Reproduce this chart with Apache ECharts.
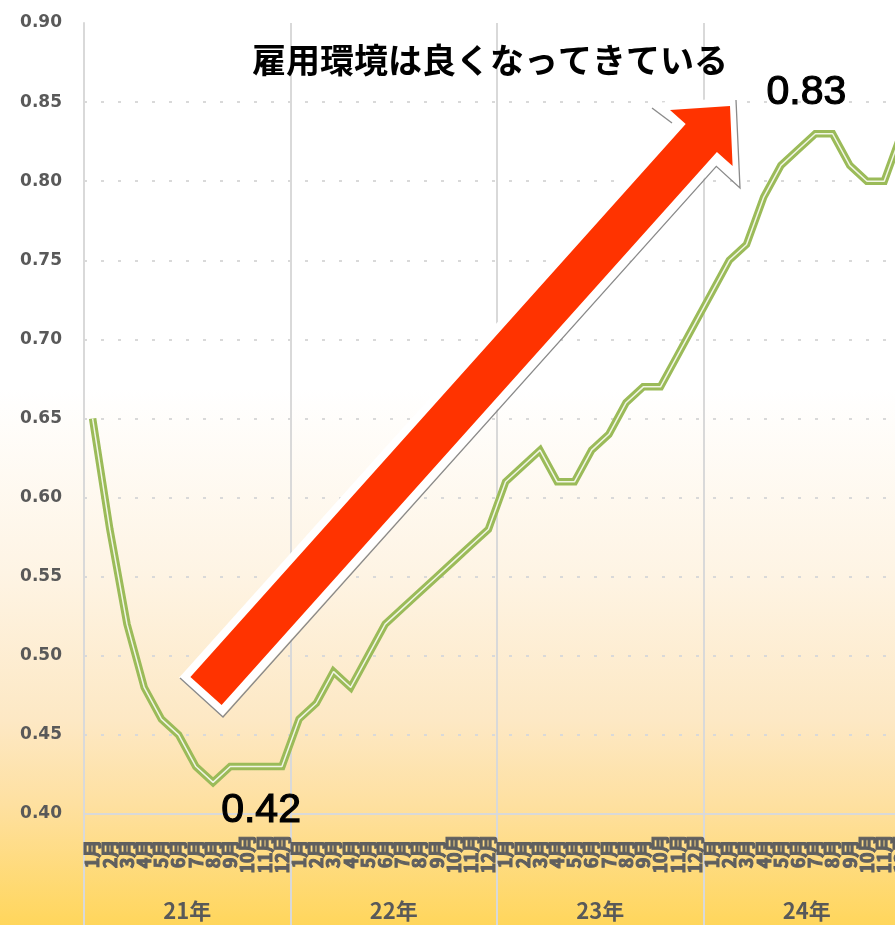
<!DOCTYPE html>
<html>
<head>
<meta charset="utf-8">
<script src="https://cdn.jsdelivr.net/npm/echarts@6/dist/echarts.min.js"></script>
<style>
  html, body { margin: 0; padding: 0; background: #fff; }
  #chart { width: 895px; height: 925px; }
</style>
</head>
<body>
<div id="chart"></div>
<script>
// 年・月の区分
const years = ['21年', '22年', '23年', '24年'];
const monthNames = ['1月', '2月', '3月', '4月', '5月', '6月', '7月', '8月', '9月', '10月', '11月', '12月'];

// 月次の求人倍率
const ratio = [
  0.65, 0.58, 0.52, 0.48, 0.46, 0.45, 0.43, 0.42, 0.43, 0.43, 0.43, 0.43,
  0.46, 0.47, 0.49, 0.48, 0.50, 0.52, 0.53, 0.54, 0.55, 0.56, 0.57, 0.58,
  0.61, 0.62, 0.63, 0.61, 0.61, 0.63, 0.64, 0.66, 0.67, 0.67, 0.69, 0.71,
  0.73, 0.75, 0.76, 0.79, 0.81, 0.82, 0.83, 0.83, 0.81, 0.80, 0.80, 0.83
];

// 縦軸の目盛り
const yMin = 0.40, yMax = 0.90, yStep = 0.05;

// 数値ラベルを付ける月（最低値・最高値）
const lowIndex = 7;
const highIndex = 42;

const categories = [];
years.forEach(y => monthNames.forEach(m => categories.push(y + m)));

const GRID = '#D9D9D9';
const AXIS_TEXT = '#595959';
const LINE_GREEN = '#9BBB59';

const lineData = ratio.map((v, i) => {
  if (i === lowIndex) {
    return { value: v, label: { show: true, position: 'bottom', offset: [48, 3] } };
  }
  if (i === highIndex) {
    return { value: v, label: { show: true, position: 'top', offset: [-9, -16] } };
  }
  return v;
});

const chart = echarts.init(document.getElementById('chart'), null, { renderer: 'canvas' });

// 矢印の形（右上向きのブロック矢印）
const arrowPts = [
  [190.4, 677], [685.7, 124], [670, 110], [730, 106],
  [732.6, 166], [716.9, 152], [221.6, 705]
];
const arrowShadow = [[180, 678], [223, 717], [716.3, 166.3], [740, 188], [736, 100]];
const arrowShadowTop = [[652, 108], [672, 123]];

chart.setOption({
  animation: false,
  backgroundColor: {
    type: 'linear', x: 0, y: 0, x2: 0, y2: 1,
    colorStops: [
      { offset: 0, color: '#FFFFFF' },
      { offset: 0.42, color: '#FFFFFF' },
      { offset: 0.62, color: '#FEF4E4' },
      { offset: 0.78, color: '#FDE8C4' },
      { offset: 0.87, color: '#FEE0A0' },
      { offset: 1, color: '#FFD65C' }
    ]
  },
  title: {
    text: '雇用環境は良くなってきている',
    left: 485,
    top: 38,
    textAlign: 'center',
    textStyle: {
      fontFamily: 'Noto Sans CJK JP',
      fontWeight: 'bold',
      fontSize: 34,
      color: '#000'
    }
  },
  grid: [
    { left: 84, top: 23, right: -15, bottom: 111, containLabel: false, outerBoundsMode: 'none' },
    { left: 84, top: 814, right: -15, bottom: 0, containLabel: false, outerBoundsMode: 'none' }
  ],
  xAxis: [
    {
      type: 'category',
      gridIndex: 0,
      data: categories,
      boundaryGap: true,
      axisLine: { show: true, lineStyle: { color: GRID, width: 2 } },
      axisTick: { show: false },
      axisLabel: {
        interval: 0,
        rotate: 90,
        align: 'center',
        margin: 40,
        fontFamily: 'Noto Sans CJK JP',
        fontWeight: 'bold',
        fontSize: 18,
        color: '#5F5F5F',
        textBorderColor: '#5F5F5F',
        textBorderWidth: 1,
        formatter: v => v.slice(v.indexOf('年') + 1)
      },
      splitLine: {
        show: true,
        interval: (idx) => idx % 12 === 0,
        lineStyle: { color: GRID, width: 2, type: 'solid' }
      }
    },
    {
      type: 'category',
      gridIndex: 1,
      data: years,
      boundaryGap: true,
      position: 'bottom',
      axisLine: { show: false },
      axisTick: { show: false },
      axisLabel: {
        inside: true,
        margin: 3,
        fontFamily: 'Noto Sans CJK JP',
        fontWeight: 'bold',
        fontSize: 22,
        color: AXIS_TEXT
      },
      splitLine: { show: true, lineStyle: { color: GRID, width: 2 } }
    }
  ],
  yAxis: [
    {
      type: 'value',
      gridIndex: 0,
      min: yMin,
      max: yMax,
      interval: yStep,
      axisLine: { show: true, lineStyle: { color: GRID, width: 2 } },
      axisTick: { show: false },
      axisLabel: {
        margin: 22,
        fontFamily: 'DejaVu Sans',
        fontWeight: 'bold',
        fontSize: 17,
        color: AXIS_TEXT,
        formatter: v => v.toFixed(2)
      },
      splitLine: {
        show: true,
        showMaxLine: false,
        lineStyle: { color: GRID, width: 2, type: [3, 14] }
      }
    },
    { type: 'value', gridIndex: 1, show: false }
  ],
  series: [
    {
      type: 'line',
      xAxisIndex: 0,
      yAxisIndex: 0,
      data: lineData,
      symbol: 'circle',
      symbolSize: 0,
      showSymbol: true,
      showAllSymbol: true,
      itemStyle: { color: LINE_GREEN, opacity: 0 },
      lineStyle: { color: LINE_GREEN, width: 7.5, join: 'miter' },
      label: {
        show: false,
        fontFamily: 'Liberation Sans',
        fontSize: 41,
        color: '#000',
        textBorderColor: '#000',
        textBorderWidth: 1.2,
        opacity: 1,
        formatter: p => p.value.toFixed(2)
      },
      z: 3
    },
    {
      type: 'line',
      xAxisIndex: 0,
      yAxisIndex: 0,
      data: ratio,
      symbol: 'none',
      lineStyle: { color: '#F1F6E6', width: 1.5 },
      silent: true,
      z: 4
    }
  ],
  graphic: [
    {
      type: 'polygon',
      shape: { points: arrowPts },
      style: { fill: '#fff', stroke: '#fff', lineWidth: 16, lineJoin: 'miter' },
      z: 10
    },
    {
      type: 'polyline',
      shape: { points: arrowShadow },
      style: { stroke: '#8A8A8A', lineWidth: 1.3, fill: null },
      z: 11
    },
    {
      type: 'polyline',
      shape: { points: arrowShadowTop },
      style: { stroke: '#8A8A8A', lineWidth: 1.3, fill: null },
      z: 11
    },
    {
      type: 'polygon',
      shape: { points: arrowPts },
      style: { fill: '#FF3300' },
      z: 12
    }
  ]
});
</script>
</body>
</html>
